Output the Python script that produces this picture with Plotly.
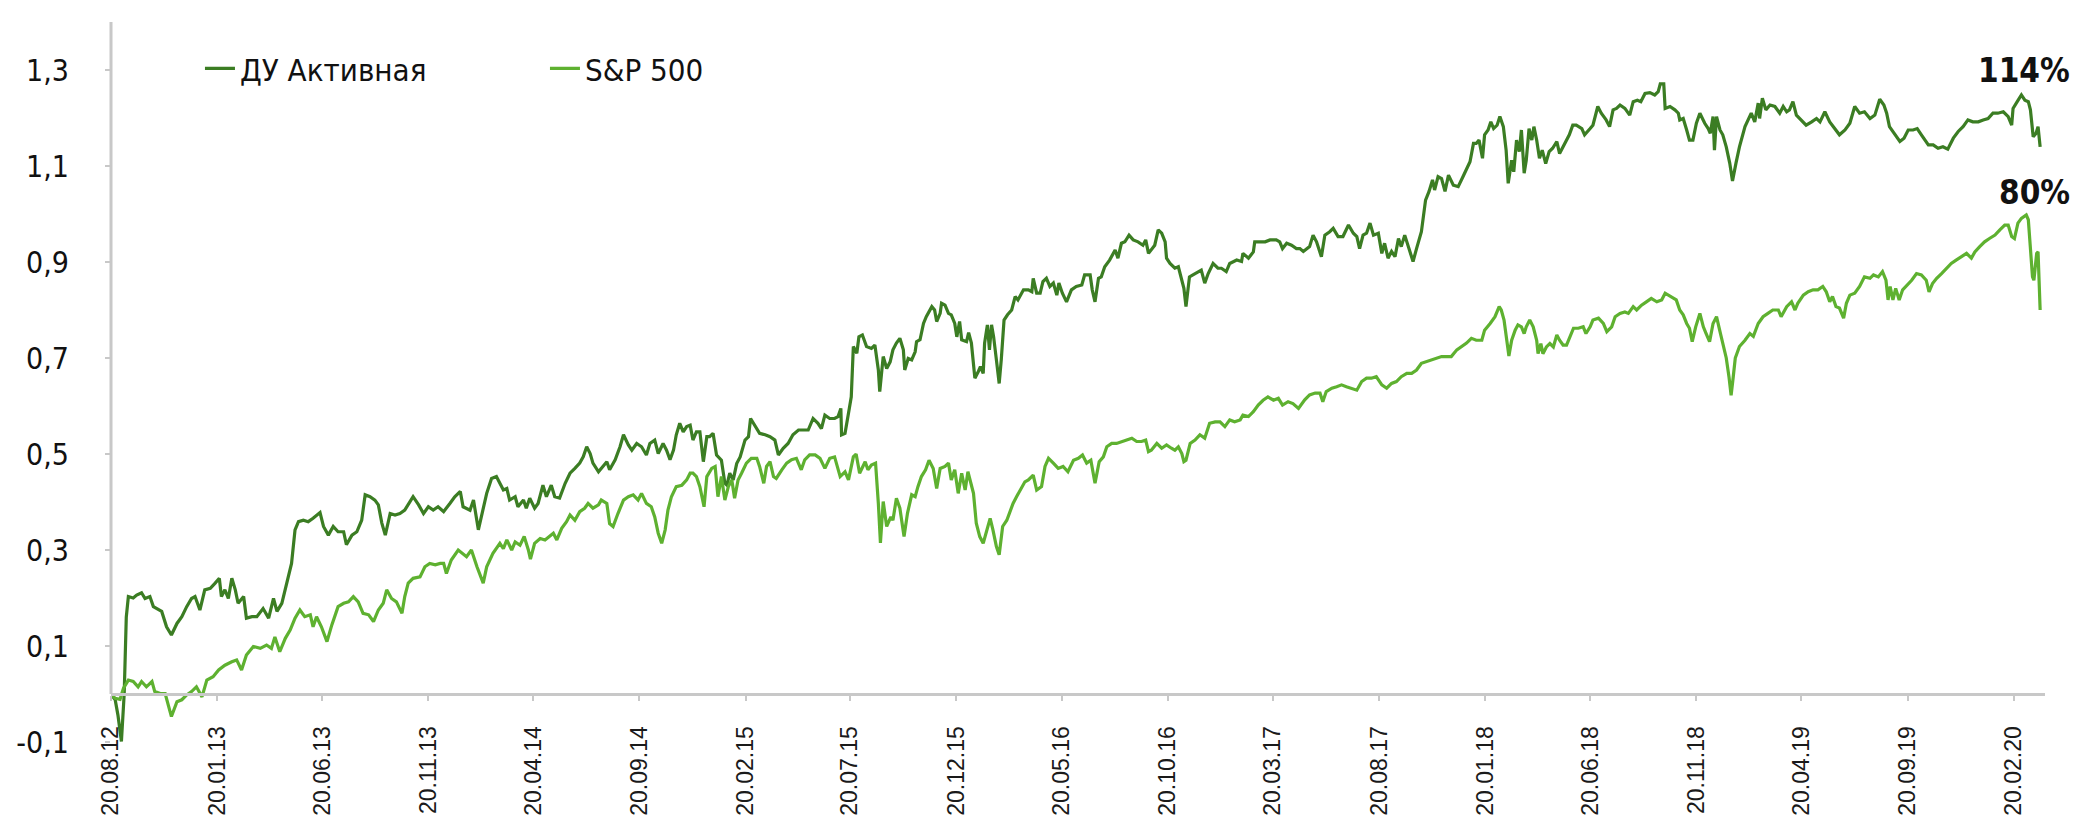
import pandas as pd
import plotly.graph_objects as go

start = pd.Timestamp("2012-08-20")

# ДУ Активная: days since 20.08.12, cumulative return
aktiv_days = [
    0, 6, 10, 15, 19, 22, 25, 32, 37, 44, 49, 56, 61, 68, 73, 80, 87, 95, 102, 109,
    116, 121, 128, 135, 143, 150, 156, 159, 164, 169, 174, 179, 183, 191, 195, 203, 210, 219, 227, 234,
    239, 246, 253, 260, 265, 270, 277, 284, 291, 301, 306, 313, 320, 327, 335, 339, 347, 354, 361, 366,
    373, 380, 385, 390, 395, 402, 409, 416, 423, 431, 435, 443, 450, 457, 464, 471, 479, 488, 495, 503,
    507, 517, 522, 529, 534, 541, 548, 555,
    560, 565, 570, 574, 582, 586, 594, 598, 603, 610, 615, 622, 627, 634, 639, 646, 654, 661, 668, 675,
    680, 685, 690, 694, 702, 709, 714, 718, 726, 733, 738, 745, 750, 757, 764, 771, 776, 783, 788, 795,
    800, 805, 810, 814, 819, 824, 829, 834, 838, 843, 848, 853, 858, 862, 867, 872, 879, 884, 887, 891,
    896, 901, 906, 913, 918, 921, 927, 934, 942, 949, 956, 961, 968, 975, 982, 990, 997, 1004, 1011, 1018,
    1023, 1028, 1035, 1042, 1047, 1051, 1052, 1057, 1062, 1066, 1069, 1074, 1077, 1082, 1088, 1095, 1100, 1105, 1107, 1112,
    1117, 1122, 1126, 1131,
    1136, 1141, 1143, 1148, 1153, 1158, 1160, 1165, 1170, 1174, 1182, 1186, 1189, 1194, 1196, 1201, 1206, 1210, 1215, 1218,
    1222, 1225, 1232, 1235, 1239, 1244, 1249, 1252, 1256, 1258, 1262, 1265, 1268, 1271, 1275, 1279, 1282, 1286, 1291, 1297,
    1302, 1306, 1314, 1321, 1326, 1328, 1333, 1338, 1342, 1347, 1352, 1357, 1362, 1365, 1370, 1376, 1383, 1390, 1398, 1402,
    1410, 1413, 1417, 1422, 1426, 1431, 1438, 1446, 1450, 1455, 1460, 1466, 1472, 1479, 1486, 1490, 1494, 1498, 1503, 1508,
    1513, 1518, 1520, 1525, 1532, 1537, 1542, 1545, 1548, 1553, 1558, 1566, 1570, 1575, 1580, 1587, 1594, 1599, 1606, 1611,
    1621, 1628, 1630, 1638, 1645, 1647, 1654, 1662, 1669, 1678, 1683, 1687, 1693, 1700, 1707,
    1712, 1717, 1722, 1726, 1731, 1736, 1743, 1748, 1755, 1760, 1767, 1774, 1782, 1789, 1794, 1798, 1803, 1808, 1813, 1818,
    1825, 1830, 1834, 1839, 1844, 1849, 1854, 1858, 1863, 1868, 1875, 1880, 1887, 1893, 1898, 1903, 1906, 1911, 1916, 1921,
    1926, 1933, 1940, 1947, 1952, 1957, 1962, 1966, 1970, 1975, 1978, 1983, 1987, 1991, 1996, 2000, 2005, 2009, 2012, 2017,
    2020, 2024, 2028, 2031, 2035, 2038, 2042, 2046, 2049, 2053, 2057, 2061, 2066, 2071, 2076, 2082, 2086, 2091, 2095, 2100,
    2105, 2110, 2118, 2122, 2130, 2134, 2141, 2146, 2153, 2158, 2163, 2168, 2173, 2180, 2187, 2192, 2198, 2203, 2209, 2216,
    2223, 2228, 2231, 2236, 2238, 2245, 2252, 2257,
    2259, 2264, 2269, 2273, 2278, 2283, 2288, 2295, 2300, 2303, 2307, 2309, 2312, 2317, 2321, 2326, 2331, 2335, 2340, 2345,
    2353, 2357, 2362, 2367, 2372, 2374, 2378, 2383, 2389, 2396, 2403, 2408, 2413, 2417, 2422, 2427, 2434, 2441, 2449, 2456,
    2461, 2468, 2475, 2482, 2489, 2497, 2504, 2511, 2518, 2525, 2533, 2540, 2547, 2553, 2557, 2561, 2569, 2576, 2582, 2588,
    2595, 2601, 2607, 2617, 2624, 2631, 2638, 2645, 2653, 2660, 2667, 2674, 2681, 2689, 2696, 2703, 2710, 2717, 2725, 2732,
    2737, 2739, 2745, 2751, 2756, 2761, 2764, 2768, 2772, 2775, 2778,
]
aktiv_vals = [
    0.0, -0.012, -0.044, -0.099, 0.0, 0.16, 0.203, 0.2, 0.206, 0.211, 0.199, 0.203, 0.182, 0.175, 0.172, 0.14, 0.123, 0.147, 0.161, 0.182,
    0.199, 0.203, 0.175, 0.217, 0.22, 0.231, 0.241, 0.203, 0.217, 0.199, 0.241, 0.217, 0.189, 0.203, 0.158, 0.161, 0.161, 0.178, 0.158, 0.199,
    0.172, 0.189, 0.231, 0.272, 0.342, 0.359, 0.362, 0.359, 0.366, 0.378, 0.349, 0.331, 0.349, 0.338, 0.338, 0.311, 0.331, 0.338, 0.362, 0.415,
    0.411, 0.404, 0.394, 0.356, 0.331, 0.376, 0.373, 0.376, 0.383, 0.401, 0.411, 0.394, 0.376, 0.39, 0.383, 0.39, 0.38, 0.397, 0.411, 0.422,
    0.39, 0.383, 0.404, 0.342, 0.376, 0.418, 0.449, 0.453,
    0.439, 0.425, 0.428, 0.404, 0.411, 0.39, 0.404, 0.387, 0.408, 0.387, 0.397, 0.435, 0.411, 0.435, 0.411, 0.408, 0.439, 0.46, 0.47, 0.481,
    0.494, 0.515, 0.501, 0.481, 0.463, 0.474, 0.484, 0.467, 0.488, 0.515, 0.54, 0.519, 0.508, 0.522, 0.515, 0.498, 0.522, 0.529, 0.501, 0.522,
    0.508, 0.488, 0.508, 0.54, 0.564, 0.546, 0.557, 0.56, 0.529, 0.546, 0.546, 0.484, 0.536, 0.536, 0.543, 0.498, 0.487, 0.439, 0.435, 0.46,
    0.446, 0.48, 0.494, 0.529, 0.536, 0.574, 0.56, 0.543, 0.54, 0.536, 0.529, 0.498, 0.512, 0.522, 0.54, 0.55, 0.55, 0.55, 0.574, 0.564,
    0.553, 0.581, 0.574, 0.574, 0.578, 0.595, 0.54, 0.543, 0.585, 0.619, 0.724, 0.71, 0.744, 0.748, 0.724, 0.72, 0.727, 0.675, 0.63, 0.703,
    0.678, 0.692, 0.717, 0.731,
    0.741, 0.717, 0.675, 0.699, 0.696, 0.713, 0.734, 0.738, 0.772, 0.786, 0.807, 0.8, 0.776, 0.793, 0.814, 0.81, 0.793, 0.79, 0.772, 0.744,
    0.776, 0.738, 0.734, 0.753, 0.731, 0.658, 0.672, 0.682, 0.668, 0.731, 0.769, 0.717, 0.769, 0.744, 0.696, 0.647, 0.696, 0.779, 0.79, 0.8,
    0.828, 0.821, 0.842, 0.842, 0.838, 0.866, 0.835, 0.835, 0.859, 0.866, 0.849, 0.856, 0.831, 0.856, 0.835, 0.817, 0.842, 0.849, 0.852, 0.873,
    0.873, 0.842, 0.817, 0.866, 0.869, 0.89, 0.904, 0.925, 0.908, 0.939, 0.942, 0.956, 0.946, 0.942, 0.935, 0.946, 0.918, 0.925, 0.935, 0.967,
    0.96, 0.942, 0.908, 0.897, 0.887, 0.89, 0.862, 0.845, 0.807, 0.869, 0.873, 0.88, 0.883, 0.856, 0.876, 0.897, 0.887, 0.887, 0.88, 0.897,
    0.904, 0.901, 0.918, 0.908, 0.921, 0.942, 0.942, 0.942, 0.946, 0.946, 0.942, 0.928, 0.939, 0.935, 0.928,
    0.928, 0.922, 0.928, 0.932, 0.956, 0.942, 0.911, 0.956, 0.963, 0.97, 0.953, 0.953, 0.977, 0.96, 0.953, 0.928, 0.956, 0.96, 0.981, 0.956,
    0.96, 0.918, 0.939, 0.908, 0.922, 0.911, 0.949, 0.932, 0.956, 0.932, 0.901, 0.928, 0.963, 1.029, 1.047, 1.071, 1.05, 1.078, 1.074, 1.047,
    1.081, 1.06, 1.057, 1.078, 1.092, 1.109, 1.147, 1.147, 1.154, 1.116, 1.165, 1.175, 1.192, 1.178, 1.185, 1.203, 1.182, 1.133, 1.064, 1.112,
    1.088, 1.154, 1.13, 1.175, 1.085, 1.112, 1.178, 1.154, 1.182, 1.154, 1.116, 1.133, 1.105, 1.13, 1.137, 1.151, 1.126, 1.14, 1.154, 1.165,
    1.185, 1.185, 1.178, 1.165, 1.178, 1.185, 1.224, 1.21, 1.196, 1.182, 1.217, 1.22, 1.227, 1.22, 1.206, 1.234, 1.237, 1.234, 1.251, 1.253,
    1.248, 1.255, 1.271, 1.271, 1.22, 1.224, 1.217, 1.21,
    1.196, 1.199, 1.175, 1.154, 1.154, 1.189, 1.21, 1.189, 1.178, 1.168, 1.203, 1.133, 1.203, 1.175, 1.165, 1.14, 1.106, 1.069, 1.106, 1.14,
    1.182, 1.196, 1.21, 1.192, 1.231, 1.199, 1.241, 1.217, 1.227, 1.224, 1.21, 1.224, 1.213, 1.217, 1.234, 1.206, 1.196, 1.185, 1.192, 1.199,
    1.192, 1.213, 1.192, 1.178, 1.165, 1.175, 1.189, 1.224, 1.21, 1.213, 1.199, 1.206, 1.239, 1.227, 1.21, 1.182, 1.165, 1.151, 1.158, 1.175,
    1.175, 1.178, 1.165, 1.144, 1.144, 1.137, 1.14, 1.135, 1.158, 1.172, 1.182, 1.196, 1.192, 1.192, 1.196, 1.199, 1.21, 1.21, 1.213, 1.203,
    1.185, 1.22, 1.234, 1.248, 1.237, 1.234, 1.217, 1.161, 1.168, 1.182, 1.14,
]

# S&P 500: days since 20.08.12, cumulative return
spx_days = [
    0, 6, 13, 18, 25, 32, 39, 44, 51, 59, 63, 71, 78, 83, 87, 95, 102, 109, 116, 123,
    131, 138, 147, 155, 164, 174, 181, 188, 195, 205, 215, 224, 231, 236, 243, 251, 258, 265, 272, 279,
    287, 291, 296, 303, 311, 318, 327, 335, 342, 349, 356, 363, 371, 378, 385, 392, 397, 404, 411, 419,
    423, 428, 435, 445, 452, 459, 467, 474, 479, 483, 490, 500, 507, 512, 519, 527, 536, 541, 550,
    560, 565, 570, 577, 582, 589, 595, 601, 604, 610, 618, 625, 632, 637, 642, 649, 656, 661, 668, 675,
    682, 687, 694, 702, 706, 714, 718, 723, 730, 738, 745, 752, 759, 764, 771, 778, 783, 788, 793, 798,
    802, 807, 814, 822, 829, 834, 838, 843, 848, 854, 858, 865, 870, 874, 879, 884, 889, 894, 898, 903,
    908, 915, 922, 930, 934, 940, 944, 949, 954, 958, 966, 973, 980, 987, 994, 999, 1006, 1014, 1021, 1028,
    1035, 1042, 1050, 1057, 1062, 1069, 1073, 1078, 1086, 1090, 1095, 1101, 1105, 1108, 1112, 1117, 1123, 1126, 1131,
    1136, 1142, 1147, 1153, 1158, 1162, 1167, 1173, 1178, 1184, 1189, 1194, 1201, 1206, 1210, 1215, 1220, 1225, 1230, 1234,
    1242, 1246, 1251, 1256, 1261, 1266, 1270, 1275, 1279, 1284, 1290, 1294, 1299, 1304, 1310, 1316, 1321, 1328, 1333, 1340,
    1345, 1350, 1357, 1364, 1371, 1378, 1386, 1393, 1399, 1405, 1411, 1417, 1423, 1429, 1434, 1441, 1448, 1455, 1462, 1470,
    1477, 1484, 1490, 1494, 1498, 1506, 1513, 1520, 1527, 1532, 1537, 1542, 1545, 1548, 1554, 1561, 1568, 1575, 1582, 1590,
    1597, 1604, 1611, 1618, 1626, 1630, 1638, 1645, 1652, 1659, 1666, 1674, 1681, 1687, 1695, 1702, 1710,
    1712, 1719, 1726, 1734, 1741, 1745, 1750, 1758, 1765, 1772, 1779, 1786, 1794, 1801, 1808, 1815, 1822, 1830, 1837, 1844,
    1851, 1858, 1866, 1873, 1880, 1887, 1894, 1902, 1909, 1916, 1923, 1930, 1938, 1945, 1952, 1959, 1966, 1974, 1978, 1986,
    1993, 1999, 2002, 2006, 2010, 2013, 2017, 2022, 2026, 2031, 2035, 2038, 2043, 2048, 2053, 2055, 2059, 2062, 2067, 2072,
    2077, 2082, 2086, 2091, 2096, 2101, 2106, 2113, 2120, 2124, 2130, 2134, 2142, 2149, 2154, 2161, 2166, 2173, 2180, 2185,
    2192, 2197, 2204, 2211, 2218, 2226, 2233, 2238, 2245, 2254,
    2259, 2264, 2269, 2273, 2277, 2282, 2288, 2293, 2297, 2302, 2307, 2312, 2317, 2321, 2326, 2330, 2333, 2336, 2339, 2345,
    2353, 2360, 2365, 2372, 2379, 2386, 2393, 2401, 2405, 2413, 2420, 2425, 2429, 2437, 2444, 2451, 2458, 2465, 2470, 2475,
    2479, 2484, 2489, 2495, 2499, 2504, 2511, 2518, 2525, 2533, 2538, 2545, 2551, 2556, 2559, 2562, 2566, 2570, 2575, 2580,
    2585, 2593, 2600, 2607, 2614, 2618, 2623, 2629, 2636, 2643, 2650, 2657, 2665, 2672, 2679, 2684, 2691, 2698, 2705, 2713,
    2720, 2727, 2732, 2737, 2741, 2746, 2751, 2758, 2761, 2763, 2767, 2769, 2773, 2775, 2778,
]
spx_vals = [
    0.0, -0.009, -0.011, 0.012, 0.029, 0.026, 0.015, 0.026, 0.015, 0.026, 0.005, 0.001, 0.001, -0.026, -0.047, -0.016, -0.012, -0.002, 0.005, 0.015,
    -0.006, 0.029, 0.036, 0.05, 0.06, 0.067, 0.071, 0.05, 0.081, 0.099, 0.095, 0.102, 0.095, 0.119, 0.088, 0.116, 0.133, 0.158, 0.175, 0.161,
    0.165, 0.14, 0.161, 0.14, 0.109, 0.144, 0.182, 0.189, 0.192, 0.203, 0.192, 0.168, 0.165, 0.151, 0.175, 0.189, 0.217, 0.199, 0.192, 0.168,
    0.203, 0.231, 0.241, 0.244, 0.265, 0.272, 0.269, 0.272, 0.272, 0.251, 0.279, 0.3, 0.293, 0.286, 0.3, 0.265, 0.231, 0.265, 0.293,
    0.314, 0.303, 0.321, 0.3, 0.317, 0.31, 0.328, 0.3, 0.281, 0.314, 0.324, 0.321, 0.328, 0.335, 0.321, 0.345, 0.359, 0.373, 0.362, 0.38,
    0.387, 0.397, 0.387, 0.394, 0.404, 0.397, 0.355, 0.349, 0.376, 0.404, 0.411, 0.415, 0.404, 0.418, 0.397, 0.39, 0.369, 0.335, 0.314, 0.342,
    0.383, 0.411, 0.432, 0.435, 0.446, 0.46, 0.46, 0.453, 0.432, 0.39, 0.453, 0.47, 0.474, 0.411, 0.453, 0.404, 0.432, 0.446, 0.408, 0.446,
    0.46, 0.481, 0.491, 0.491, 0.474, 0.439, 0.474, 0.484, 0.453, 0.449, 0.467, 0.481, 0.488, 0.491, 0.467, 0.488, 0.498, 0.498, 0.491, 0.47,
    0.491, 0.494, 0.453, 0.463, 0.446, 0.494, 0.5, 0.46, 0.484, 0.467, 0.477, 0.481, 0.397, 0.315, 0.401, 0.349, 0.369, 0.362, 0.408,
    0.387, 0.328, 0.377, 0.415, 0.411, 0.432, 0.453, 0.467, 0.487, 0.47, 0.428, 0.47, 0.474, 0.481, 0.446, 0.467, 0.418, 0.46, 0.425, 0.463,
    0.418, 0.356, 0.328, 0.314, 0.342, 0.366, 0.342, 0.307, 0.29, 0.349, 0.362, 0.377, 0.397, 0.411, 0.425, 0.442, 0.446, 0.456, 0.425, 0.432,
    0.474, 0.491, 0.481, 0.47, 0.474, 0.463, 0.487, 0.491, 0.498, 0.481, 0.487, 0.439, 0.484, 0.494, 0.515, 0.522, 0.522, 0.526, 0.529, 0.533,
    0.526, 0.526, 0.529, 0.505, 0.508, 0.522, 0.512, 0.519, 0.512, 0.508, 0.515, 0.501, 0.484, 0.487, 0.522, 0.529, 0.54, 0.533, 0.564, 0.567,
    0.567, 0.557, 0.571, 0.567, 0.571, 0.581, 0.578, 0.588, 0.602, 0.612, 0.619, 0.612, 0.616, 0.602, 0.609, 0.605, 0.595,
    0.599, 0.613, 0.623, 0.627, 0.627, 0.609, 0.63, 0.637, 0.64, 0.644, 0.64, 0.637, 0.633, 0.651, 0.658, 0.658, 0.661, 0.644, 0.637, 0.647,
    0.651, 0.661, 0.668, 0.668, 0.675, 0.689, 0.692, 0.696, 0.699, 0.703, 0.703, 0.703, 0.717, 0.724, 0.731, 0.741, 0.737, 0.737, 0.758, 0.772,
    0.786, 0.807, 0.8, 0.779, 0.737, 0.704, 0.737, 0.758, 0.769, 0.765, 0.751, 0.765, 0.779, 0.765, 0.737, 0.709, 0.73, 0.709, 0.723, 0.73,
    0.723, 0.748, 0.737, 0.727, 0.727, 0.744, 0.762, 0.762, 0.765, 0.751, 0.765, 0.779, 0.783, 0.772, 0.755, 0.765, 0.786, 0.793, 0.796, 0.793,
    0.807, 0.8, 0.81, 0.817, 0.824, 0.817, 0.821, 0.835, 0.828, 0.821,
    0.8, 0.79, 0.772, 0.762, 0.734, 0.765, 0.793, 0.765, 0.751, 0.734, 0.772, 0.786, 0.755, 0.73, 0.7, 0.66, 0.622, 0.66, 0.7, 0.724,
    0.737, 0.751, 0.745, 0.772, 0.786, 0.793, 0.8, 0.8, 0.786, 0.807, 0.817, 0.8, 0.814, 0.831, 0.838, 0.842, 0.842, 0.849, 0.838, 0.817,
    0.828, 0.807, 0.804, 0.783, 0.814, 0.831, 0.835, 0.849, 0.869, 0.866, 0.873, 0.869, 0.88, 0.862, 0.821, 0.849, 0.821, 0.845, 0.821, 0.842,
    0.849, 0.862, 0.876, 0.873, 0.862, 0.838, 0.855, 0.866, 0.876, 0.887, 0.897, 0.904, 0.911, 0.918, 0.908, 0.921, 0.932, 0.942, 0.949, 0.956,
    0.967, 0.977, 0.977, 0.953, 0.949, 0.981, 0.991, 0.998, 0.988, 0.953, 0.869, 0.862, 0.918, 0.921, 0.80,
]

series_names = ["ДУ Активная", "S&P 500"]
series_colors = ["#3b7d23", "#5eb130"]

y_tick_vals = [-0.1, 0.1, 0.3, 0.5, 0.7, 0.9, 1.1, 1.3]
y_tick_text = ["-0,1", "0,1", "0,3", "0,5", "0,7", "0,9", "1,1", "1,3"]
y_range = [-0.1, 1.4]
x_end_days = 2785

AXIS_GREY = "#c8c8c8"
NARROW = "Liberation Sans Narrow, DejaVu Sans Condensed, Arial Narrow, Liberation Sans, sans-serif"


def to_dates(days):
    return start + pd.to_timedelta(days, unit="D")


fig = go.Figure()
for name, color, days, vals in [
    (series_names[0], series_colors[0], aktiv_days, aktiv_vals),
    (series_names[1], series_colors[1], spx_days, spx_vals),
]:
    fig.add_trace(go.Scatter(
        x=to_dates(days), y=vals, mode="lines", name=name,
        line=dict(color=color, width=3.2),
    ))

# final-value labels
for vals, y_pos in [(aktiv_vals, 1.30), (spx_vals, 1.045)]:
    fig.add_annotation(
        x=1.014, xref="paper", y=y_pos, yref="y",
        text=f"{round(vals[-1] * 100)}%", showarrow=False,
        xanchor="right", yanchor="middle",
        font=dict(family=NARROW, size=33, color="#111111", weight="bold"),
    )

# vertical axis line, drawn from zero upward
fig.add_shape(type="line", xref="paper", yref="y", x0=0, x1=0, y0=0, y1=y_range[1],
              line=dict(color=AXIS_GREY, width=3))

zero_pos = (0 - y_range[0]) / (y_range[1] - y_range[0])

fig.update_layout(
    width=2081, height=816,
    margin=dict(l=111, r=36, t=22, b=74),
    paper_bgcolor="white", plot_bgcolor="white",
    showlegend=True,
    legend=dict(
        orientation="h", x=0.046, y=0.935, xanchor="left", yanchor="middle",
        font=dict(family=NARROW, size=31, color="#111111"),
        bgcolor="rgba(0,0,0,0)", entrywidth=300, entrywidthmode="pixels",
    ),
    xaxis=dict(
        type="date",
        range=[start, start + pd.Timedelta(days=x_end_days)],
        tick0="2012-08-20", dtick="M5", tickformat="%d.%m.%y",
        tickangle=-90, ticks="outside", ticklen=5, tickwidth=2, tickcolor=AXIS_GREY,
        showline=True, linecolor=AXIS_GREY, linewidth=3,
        anchor="free", position=zero_pos,
        showgrid=False, zeroline=False, automargin=False,
        ticklabelstandoff=16,
        tickfont=dict(family="Liberation Sans, Arial, sans-serif", size=23, color="#1a1a1a"),
    ),
    yaxis=dict(
        range=y_range, tickvals=y_tick_vals, ticktext=y_tick_text,
        ticks="outside", ticklen=5, tickwidth=2, tickcolor=AXIS_GREY,
        showline=False, showgrid=False, zeroline=False, automargin=False,
        ticklabelstandoff=30,
        tickfont=dict(family=NARROW, size=30, color="#111111"),
    ),
)

fig.write_html("out.html")
